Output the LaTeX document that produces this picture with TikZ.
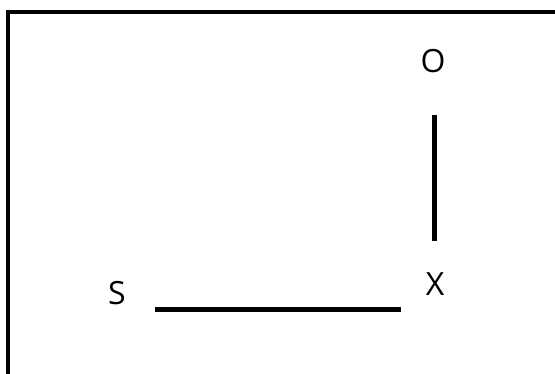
\documentclass[tikz,border=0pt]{standalone}
\usepackage{fontspec}
\setmainfont{Open Sans}
\begin{document}
\begin{tikzpicture}[x=1pt,y=-1pt,
  lbl/.style={font=\fontsize{32}{32}\selectfont,inner sep=0pt},
  seg/.style={line width=5pt}]
\useasboundingbox (0,0) rectangle (555,374);
\clip (0,0) rectangle (555,374);
\draw[line width=3.5pt] (8,400) -- (8,12) -- (600,12);
\node[lbl] (o) at (433,61) {O};
\node[lbl] (x) at (435,284) {X};
\node[lbl] (s) at (117,293) {S};
\coordinate (ot) at (434,115);
\coordinate (xb) at (434,241);
\coordinate (sl) at (155,310);
\coordinate (xl) at (401,310);
\draw[seg] (ot) -- (xb);
\draw[seg] (sl) -- (xl);
\end{tikzpicture}
\end{document}
